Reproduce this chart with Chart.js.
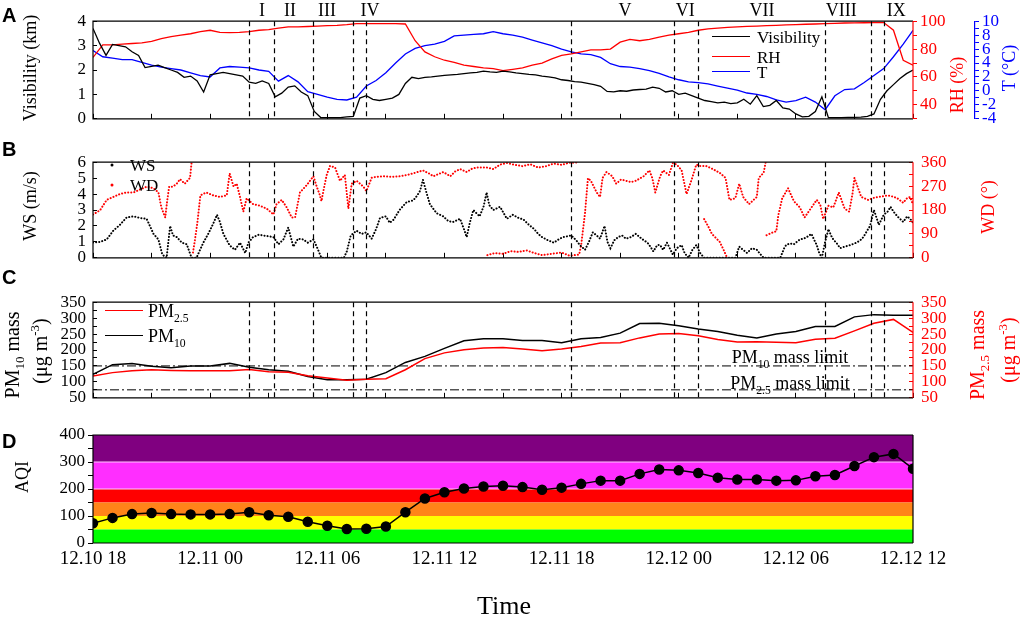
<!DOCTYPE html>
<html>
<head>
<meta charset="utf-8">
<script src="https://cdn.jsdelivr.net/npm/chart.js@4.4.1/dist/chart.umd.min.js"></script>
<style>
  body { margin: 0; background: #fff; }
  #wrap { position: relative; width: 1024px; height: 620px; overflow: hidden; font-family: 'Liberation Serif', serif; color: #000; background: #fff; }
  canvas { position: absolute; left: 0; }
  .t { position: absolute; white-space: nowrap; line-height: 1; transform: translate(-50%, -50%); }
  .r { transform: translate(-50%, -50%) rotate(-90deg); }
  .l { position: absolute; white-space: nowrap; line-height: 1; transform: translateY(-50%); font-size: 17px; }
  .key { position: absolute; height: 0; border-top: 1.6px solid; }
  .dot { position: absolute; width: 3px; height: 3px; border-radius: 50%; transform: translate(-50%, -50%); }
  .pl { position: absolute; font: bold 20px 'Liberation Sans', sans-serif; transform: translateY(-50%); }
  sub, sup { font-size: 65%; line-height: 0; }
</style>
</head>
<body>
<div id="wrap">
  <canvas id="cA" width="1024" height="140" style="top:0"></canvas>
  <canvas id="cB" width="1024" height="140" style="top:140px"></canvas>
  <canvas id="cC" width="1024" height="140" style="top:280px"></canvas>
  <canvas id="cD" width="1024" height="200" style="top:420px"></canvas>

  <div class="pl" style="left:2px;top:15px">A</div>
  <div class="pl" style="left:2px;top:149px">B</div>
  <div class="pl" style="left:2px;top:277px">C</div>
  <div class="pl" style="left:2px;top:441px">D</div>

  <!-- axis titles -->
  <div class="t r" style="left:30px;top:68px;font-size:18px">Visibility (km)</div>
  <div class="t r" style="left:957px;top:85px;font-size:18px;color:#f00">RH (%)</div>
  <div class="t r" style="left:1009px;top:68px;font-size:18px;color:#00f">T (°C)</div>
  <div class="t r" style="left:30px;top:206px;font-size:18px">WS (m/s)</div>
  <div class="t r" style="left:988px;top:207px;font-size:18px;color:#f00">WD (°)</div>
  <div class="t r" style="left:12px;top:355px;font-size:20px">PM<sub>10</sub> mass</div>
  <div class="t r" style="left:40px;top:351px;font-size:20px">(μg m<sup>-3</sup>)</div>
  <div class="t r" style="left:977px;top:355px;font-size:20px;color:#f00">PM<sub>2.5</sub> mass</div>
  <div class="t r" style="left:1008px;top:350px;font-size:20px;color:#f00">(μg m<sup>-3</sup>)</div>
  <div class="t r" style="left:22px;top:477px;font-size:18px">AQI</div>
  <div class="t" style="left:504px;top:606px;font-size:26px">Time</div>

  <!-- panel A legend -->
  <div class="key" style="left:712px;width:38px;top:36px;border-color:#000"></div>
  <div class="l" style="left:757px;top:37px">Visibility</div>
  <div class="key" style="left:712px;width:38px;top:56px;border-color:#f00"></div>
  <div class="l" style="left:757px;top:57px">RH</div>
  <div class="key" style="left:712px;width:38px;top:71px;border-color:#00f"></div>
  <div class="l" style="left:757px;top:72px">T</div>

  <!-- panel B legend -->
  <div class="dot" style="left:112px;top:165px;background:#000"></div>
  <div class="l" style="left:130px;top:165px">WS</div>
  <div class="dot" style="left:112px;top:185px;background:#f00"></div>
  <div class="l" style="left:130px;top:185px">WD</div>

  <!-- panel C legend and limit labels -->
  <div class="key" style="left:105px;width:38px;top:310px;border-color:#f00"></div>
  <div class="l" style="left:148px;top:311px;font-size:18px">PM<sub>2.5</sub></div>
  <div class="key" style="left:105px;width:38px;top:335px;border-color:#000"></div>
  <div class="l" style="left:148px;top:336px;font-size:18px">PM<sub>10</sub></div>
  <div class="t" style="left:790px;top:357px;font-size:18px">PM<sub>10</sub> mass limit</div>
  <div class="t" style="left:790px;top:383px;font-size:18px">PM<sub>2.5</sub> mass limit</div>
</div>

<script>
// time axis: hours after 12.10 18:00
const xMin = 0, xMax = 42;
const tickHours = [0, 6, 12, 18, 24, 30, 36, 42];
const tickLabels = ['12.10 18', '12.11 00', '12.11 06', '12.11 12', '12.11 18', '12.12 00', '12.12 06', '12.12 12'];
const minorHours = [0, 3, 6, 9, 12, 15, 18, 21, 24, 27, 30, 33, 36, 39, 42];

// episode boundaries (dashed lines) and episode names
const eventHours = [8, 9.25, 11.25, 13.33, 14, 24.5, 29.75, 31, 37.5, 39.83, 40.5];
const episodeNames = ['I', 'II', 'III', 'IV', 'V', 'VI', 'VII', 'VIII', 'IX'];
const episodeLabelHour = [8.66, 10.09, 11.99, 14.19, 27.25, 30.33, 34.27, 38.32, 41.14];

// panel A: visibility every 20 min (km)
const visStep = 1 / 3;
const visibility = [
  3.7, 3.1, 2.6, 3.05, 3.0, 2.95, 2.75, 2.6, 2.1, 2.15, 2.2, 2.1,
  2.0, 1.9, 1.7, 1.75, 1.55, 1.1, 1.8, 1.85, 1.9, 1.85, 1.8, 1.75,
  1.5, 1.45, 1.55, 1.45, 0.9, 1.05, 1.3, 1.35, 1.1, 0.95, 0.3, 0.05,
  0.05, 0.05, 0.05, 0.08, 0.1, 0.85, 0.95, 0.8, 0.75, 0.8, 0.85, 1.0,
  1.45, 1.7, 1.65, 1.7, 1.72, 1.75, 1.78, 1.8, 1.82, 1.85, 1.88, 1.9,
  1.95, 1.92, 1.9, 1.95, 1.92, 1.88, 1.85, 1.82, 1.8, 1.75, 1.72, 1.68,
  1.6, 1.57, 1.52, 1.5, 1.45, 1.4, 1.33, 1.12, 1.1, 1.15, 1.13, 1.18,
  1.2, 1.22, 1.3, 1.25, 1.1, 1.15, 1.0, 1.05, 0.95, 0.85, 0.75, 0.7,
  0.65, 0.68, 0.62, 0.65, 0.8, 0.6, 0.95, 0.5, 0.55, 0.75, 0.45, 0.4,
  0.2, 0.08, 0.1, 0.3, 0.9, 0.05, 0.05, 0.05, 0.06, 0.06, 0.07, 0.1,
  0.2, 0.8, 1.15, 1.4, 1.65, 1.85, 2.0
];

// panel A: RH (%) and T (°C) every 30 min
const metStep = 0.5;
const rh = [
  74, 83, 83, 83.5, 84, 84.5, 85.5, 87.5, 89, 90, 91, 92.5, 93.5, 92, 91.8, 92, 92.5, 93.5, 94, 95,
  96, 96, 96.2, 96.5, 96.8, 97, 97.5, 98.3, 98.3, 98.3, 98.3, 98.3, 98, 86, 78, 74.5, 72, 70.5, 68.5, 67.5,
  66.5, 66, 64.5, 65.5, 66.5, 68.5, 70, 73, 75.5, 76.5, 78, 79.5, 79.5, 80, 85, 87, 86, 87, 88.5, 90,
  91, 92, 93.5, 94.5, 95, 95.5, 96, 96.3, 96.5, 96.8, 97, 97.3, 97.5, 97.8, 98, 98.3, 98.5, 98.7, 98.8, 98.9,
  99, 99, 93.5, 72, 68.5
];
const temp = [
  5.8, 4.9, 4.7, 4.5, 4.5, 4.1, 3.7, 3.4, 3.2, 3.0, 2.6, 2.2, 2.0, 3.3, 3.5, 3.4, 3.3, 3.0, 2.8, 1.4,
  2.2, 1.3, -0.1, -0.5, -0.9, -1.2, -1.3, -0.9, 0.7, 1.5, 2.6, 4.0, 5.3, 6.1, 6.5, 6.7, 7.1, 7.9, 8.0, 8.1,
  8.2, 8.5, 8.2, 8.0, 7.7, 7.3, 6.9, 6.5, 6.0, 5.6, 5.3, 5.2, 4.8, 3.9, 3.5, 3.4, 3.2, 2.9, 2.5, 2.0,
  1.6, 1.3, 1.2, 1.0, 0.7, 0.4, 0.1, -0.3, -0.5, -0.8, -1.3, -1.6, -1.4, -0.9, -1.6, -2.7, -0.7, 0.2, 0.3, 1.2,
  2.2, 3.2, 4.9, 6.7, 8.7
];

// panel B: wind speed (m/s)
const wsHour = [
  0, 0.36, 0.7, 1.04, 1.38, 1.72, 2.07, 2.4, 2.75, 3.1, 3.35, 3.55, 3.77, 3.95, 4.1, 4.29, 4.55, 4.8, 5.05, 5.3,
  5.65, 5.9, 6.16, 6.35, 6.5, 6.68, 7.0, 7.27, 7.53, 7.8, 7.96, 8.2, 8.5, 8.73, 9.0, 9.24, 9.5, 9.75, 10.0, 10.26,
  10.5, 10.77, 11.0, 11.29, 11.46, 11.7, 12.0, 12.5, 12.85, 13.0, 13.2, 13.5, 13.76, 14.0, 14.27, 14.5, 14.7, 15.0, 15.2, 15.4,
  15.7, 16.07, 16.4, 16.6, 16.75, 16.9, 17.1, 17.26, 17.6, 17.94, 18.2, 18.45, 18.8, 19.0, 19.14, 19.3, 19.48, 19.8, 20.0, 20.16,
  20.3, 20.5, 20.85, 21.2, 21.5, 21.8, 22.05, 22.3, 22.6, 22.8, 23.0, 23.3, 23.6, 23.9, 24.1, 24.3, 24.5, 24.75, 24.95, 25.2,
  25.4, 25.6, 25.8, 25.97, 26.2, 26.35, 26.5, 26.7, 26.9, 27.1, 27.3, 27.55, 27.8, 28.1, 28.4, 28.55, 28.7, 28.9, 29.05, 29.2,
  29.4, 29.7, 29.9, 30.15, 30.3, 30.5, 30.7, 30.9, 31.1, 31.3, 32.9, 33.1, 33.3, 33.5, 33.75, 34.0, 34.2, 34.35, 35.2, 35.4,
  35.5, 35.7, 35.9, 36.05, 36.2, 36.4, 36.56, 36.8, 36.95, 37.07, 37.2, 37.33, 37.5, 37.67, 37.8, 37.92, 38.1, 38.27, 38.5, 38.8,
  39.1, 39.3, 39.46, 39.65, 39.8, 40.0, 40.25, 40.5, 40.7, 40.85, 41.0, 41.2, 41.5, 41.7, 41.85, 42.0
];
const wsSpeed = [
  0.96, 1.0, 1.15, 1.7, 2.07, 2.53, 2.6, 2.5, 2.44, 1.5, 1.15, 0.2, 0, 2.0, 1.4, 1.3, 0.95, 0.85, 0, 0,
  0.95, 1.5, 2.15, 2.7, 2.25, 1.5, 0.78, 0.5, 0.95, 0.3, 0.95, 1.3, 1.45, 1.4, 1.35, 1.3, 0.85, 1.15, 1.9, 0.7,
  1.2, 1.15, 0.95, 1.15, 0.7, 0, 0, 0, 0, 0.4, 1.4, 1.7, 1.5, 1.6, 1.2, 1.8, 2.5, 2.6, 2.2, 2.4,
  3.0, 3.5, 3.6, 3.9, 4.2, 4.9, 4.0, 3.35, 2.8, 2.6, 2.3, 2.25, 2.45, 1.8, 1.3, 2.2, 3.0, 2.6, 3.2, 4.1,
  3.3, 3.0, 3.2, 2.45, 2.7, 2.5, 2.4, 2.1, 1.8, 1.5, 1.3, 1.1, 0.95, 1.2, 1.3, 1.35, 1.4, 1.1, 0.78, 0.5,
  1.0, 1.6, 1.4, 1.2, 2.0, 1.0, 0.6, 1.1, 1.3, 1.4, 1.2, 1.3, 1.5, 1.2, 0.95, 0.7, 0.4, 0.8, 0.8, 0.5,
  0.95, 0.2, 0.6, 0.8, 0.3, 0, 0.5, 0.8, 0.3, 0, 0, 0.7, 0.5, 0.3, 0.6, 0.5, 0.2, 0, 0, 0.6,
  0.8, 0.9, 0.85, 1.0, 1.15, 1.2, 1.3, 1.5, 1.1, 0.8, 0.3, 0, 1.0, 1.8, 1.4, 1.15, 0.9, 0.6, 0.7, 0.8,
  0.95, 1.1, 1.3, 1.7, 2.0, 3.0, 2.07, 2.7, 2.9, 3.2, 2.9, 2.6, 2.25, 2.6, 2.45, 2.2
];

// panel B: wind direction (°), null breaks the trace where it wraps past 360
const wdHour = [
  0, 0.36, 0.7, 1.04, 1.38, 1.72, 2.07, 2.4, 2.75, 3.1, 3.35, 3.5, 3.7, 3.8, 3.9, 4.1, 4.3, 4.46, 4.7, 4.97, 5.05,
  5.05,
  5.12, 5.2, 5.35, 5.5, 5.8, 6.16, 6.5, 6.85, 7.0, 7.2, 7.36, 7.53, 7.7, 7.87, 8.2, 8.55, 8.9, 9.24, 9.4, 9.67,
  9.92, 10.18, 10.35, 10.6, 10.95, 11.29, 11.46, 11.6, 11.7, 11.85, 11.97, 12.14, 12.4, 12.65, 12.9, 13.08, 13.25, 13.5, 13.85, 14.0,
  14.27, 14.5, 14.87, 15.3, 15.73, 16.1, 16.4, 16.9, 17.2, 17.43, 17.95, 18.3, 18.55, 18.8, 19.14, 19.4, 19.65, 20.16, 20.5, 20.85,
  21.2, 21.6, 22.0, 22.4, 22.8, 23.2, 23.6, 24.0, 24.4, 24.9,
  24.9,
  20.2, 20.6, 21.0, 21.4, 21.8, 22.2, 22.6, 23.0, 23.5, 24.0, 24.4, 24.9, 25.0, 25.2, 25.35, 25.5, 25.8, 25.97, 26.1, 26.3,
  26.6, 26.8, 27.05, 27.3, 27.55, 27.8, 28.2, 28.5, 28.65, 28.8, 29.05, 29.2, 29.5, 29.7, 29.9, 30.15, 30.4, 30.67, 30.9, 31.1,
  31.4, 31.75, 32.1, 32.4, 32.6, 32.9, 33.1, 33.3, 33.6, 34.0, 34.1, 34.35, 34.45,
  34.45,
  34.5, 34.8, 35.0, 35.1, 35.3, 35.6, 35.9, 36.2, 36.45, 36.7, 36.9, 37.07, 37.25, 37.4, 37.67, 37.92, 38.2, 38.5, 38.73, 38.9,
  39.0, 39.2, 39.35, 39.7, 39.95, 40.2, 40.5, 40.7, 41.0, 41.2, 41.5, 41.7, 41.85, 42.0,
  42.0,
  31.3, 31.5, 31.7, 31.9, 32.1, 32.3, 32.45
];
const wdDir = [
  163, 179, 218, 229, 240, 246, 246, 257, 268, 262, 246, 190, 152, 215, 268, 268, 280, 296, 279, 301, 360,
  null,
  20, 57, 135, 235, 246, 235, 229, 235, 318, 268, 279, 229, 174, 224, 202, 196, 185, 163, 202, 218,
  190, 152, 152, 246, 274, 307, 268, 240, 213, 270, 312, 346, 340, 290, 312, 185, 279, 290, 268, 251,
  301, 305, 307, 305, 307, 312, 318, 329, 318, 307, 323, 307, 325, 334, 323, 335, 340, 340, 334, 351,
  357, 350, 345, 352, 340, 345, 355, 350, 358, 359,
  null,
  10, 18, 15, 25, 22, 28, 18, 10, 15, 20, 8, 12, 46, 168, 300, 290, 246, 229, 301, 323,
  307, 279, 295, 290, 285, 290, 307, 329, 300, 246, 307, 329, 312, 357, 351, 329, 240, 296, 351, 346,
  346, 334, 320, 301, 218, 224, 279, 229, 202, 229, 301, 320, 358,
  null,
  85, 95, 100, 160, 224, 262, 213, 190, 152, 179, 200, 218, 200, 146, 196, 190, 246, 185, 174, 240,
  301, 260, 229, 218, 225, 229, 232, 235, 230, 224, 207, 225, 229, 200,
  null,
  146, 120, 90, 75, 60, 30, 5
];

// panel C: hourly mass concentrations (µg m-3)
const pmStep = 1;
const pm10 = [
  124, 154, 158, 149, 144, 150, 150, 158, 146, 138, 133, 117, 107, 107, 108, 129, 161, 180, 205, 229, 235,
  235, 230, 230, 223, 235, 239, 253, 283, 284, 276, 266, 258, 246, 238, 250, 258, 274, 274, 304, 311, 309, 309
];
const pm25 = [
  118, 129, 135, 138, 136, 135, 135, 135, 139, 132, 130, 119, 112, 105, 108, 110, 138, 173, 191, 201, 206,
  208, 203, 198, 203, 211, 222, 223, 238, 250, 252, 245, 233, 225, 226, 224, 223, 234, 237, 260, 284, 296, 255
];
const pm10Limit = 150;
const pm25Limit = 75;

// panel D: hourly AQI and category bands
const aqi = [
  73, 93, 107, 111, 107, 106, 106, 107, 114, 103, 97, 79, 64, 52, 53, 61, 114, 165, 188, 202, 209, 212,
  207, 197, 205, 219, 231, 231, 256, 272, 269, 259, 242, 235, 235, 231, 232, 247, 252, 285, 318, 330, 275
];
const aqiLevels = [50, 100, 150, 200, 300, 400];
const aqiColors = ['#00ff00', '#ffff00', '#ff8419', '#ff0000', '#ff2eff', '#800080'];

Chart.defaults.font.family = "'Liberation Serif', serif";
Chart.defaults.color = '#000';

function series(step, vals) { return vals.map((v, i) => ({ x: i * step, y: v })); }
function pairs(hs, vs) { return hs.map((h, i) => ({ x: h, y: vs[i] })); }
function fixW(w) { return s => { s.width = w; }; }
function fixH(h) { return s => { s.height = h; }; }

function xAxis(withLabels, h) {
  return {
    type: 'linear', min: xMin, max: xMax,
    afterBuildTicks: s => { s.ticks = (withLabels ? tickHours : minorHours).map(v => ({ value: v })); },
    ticks: {
      autoSkip: false, maxRotation: 0, font: { size: 19 }, padding: 5,
      callback: v => withLabels ? tickLabels[tickHours.indexOf(v)] : ''
    },
    grid: { drawOnChartArea: false, drawTicks: !withLabels, tickLength: -5, color: '#000' },
    border: { display: false },
    afterFit: fixH(h)
  };
}

function yAxis(pos, min, max, step, every, color, width, tl, pad) {
  return {
    type: 'linear', position: pos, min: min, max: max,
    ticks: {
      stepSize: step, autoSkip: false, color: color, font: { size: 17 }, padding: pad,
      callback: v => (Math.abs(v % every) < 1e-9) ? v : ''
    },
    grid: { drawOnChartArea: false, tickLength: tl, color: color },
    border: { display: false },
    afterFit: fixW(width)
  };
}

const framePlugin = {
  id: 'frame',
  afterDraw(chart, args, opts) {
    const { ctx, chartArea: a } = chart;
    ctx.save();
    ctx.lineWidth = 1.2;
    ctx.strokeStyle = '#000';
    ctx.beginPath();
    ctx.moveTo(a.right, a.top); ctx.lineTo(a.left, a.top);
    ctx.lineTo(a.left, a.bottom); ctx.lineTo(a.right, a.bottom);
    ctx.stroke();
    ctx.strokeStyle = opts.right || '#000';
    ctx.beginPath(); ctx.moveTo(a.right, a.top); ctx.lineTo(a.right, a.bottom); ctx.stroke();
    ctx.restore();
  }
};

const eventLines = {
  id: 'events',
  afterDatasetsDraw(chart) {
    const { ctx, chartArea: a, scales: { x } } = chart;
    ctx.save();
    ctx.setLineDash([5, 4]);
    ctx.lineWidth = 1.2;
    ctx.strokeStyle = '#000';
    eventHours.forEach(h => {
      const px = Math.round(x.getPixelForValue(h)) + 0.5;
      ctx.beginPath(); ctx.moveTo(px, a.top); ctx.lineTo(px, a.bottom); ctx.stroke();
    });
    ctx.restore();
  }
};

const episodeLabels = {
  id: 'episodes',
  afterDraw(chart) {
    const { ctx, scales: { x } } = chart;
    ctx.save();
    ctx.font = "18px 'Liberation Serif'";
    ctx.fillStyle = '#000';
    ctx.textAlign = 'center';
    ctx.textBaseline = 'middle';
    episodeNames.forEach((n, i) => ctx.fillText(n, x.getPixelForValue(episodeLabelHour[i]), 11));
    ctx.restore();
  }
};

const common = {
  responsive: false,
  animation: false,
  events: [],
  elements: { point: { radius: 0 } }
};

// A: visibility, RH, T
new Chart(document.getElementById('cA'), {
  type: 'line',
  data: {
    datasets: [
      { data: series(visStep, visibility), borderColor: '#000', borderWidth: 1.3, yAxisID: 'y' },
      { data: series(metStep, rh), borderColor: '#ff0000', borderWidth: 1.3, yAxisID: 'yRH' },
      { data: series(metStep, temp), borderColor: '#0000ff', borderWidth: 1.3, yAxisID: 'yT' }
    ]
  },
  options: Object.assign({}, common, {
    layout: { padding: { top: 17 } },
    plugins: { legend: { display: false }, tooltip: { enabled: false }, frame: { right: '#ff0000' } },
    scales: {
      x: xAxis(false, 15),
      y: yAxis('left', 0, 4, 1, 1, '#000', 93, -4, 11),
      yRH: yAxis('right', 30, 100, 10, 20, '#ff0000', 62, 4, 3),
      yT: Object.assign(yAxis('right', -4, 10, 1, 2, '#0000ff', 49, 4, 3),
        { border: { display: true, color: '#0000ff', width: 1.2 } })
    }
  }),
  plugins: [framePlugin, eventLines, episodeLabels]
});

// B: wind speed and direction
new Chart(document.getElementById('cB'), {
  type: 'line',
  data: {
    datasets: [
      { data: pairs(wsHour, wsSpeed), borderColor: '#000', borderWidth: 2, borderDash: [0.1, 3], borderCapStyle: 'round', yAxisID: 'y' },
      { data: pairs(wdHour, wdDir), borderColor: '#ff0000', borderWidth: 2, borderDash: [0.1, 3], borderCapStyle: 'round', spanGaps: false, yAxisID: 'yWD' }
    ]
  },
  options: Object.assign({}, common, {
    layout: { padding: { top: 16 } },
    plugins: { legend: { display: false }, tooltip: { enabled: false }, frame: { right: '#ff0000' } },
    scales: {
      x: xAxis(false, 16),
      y: yAxis('left', 0, 6, 1, 1, '#000', 93, -4, 11),
      yWD: yAxis('right', 0, 360, 45, 90, '#ff0000', 111, -4, 12)
    }
  }),
  plugins: [framePlugin, eventLines]
});

// C: PM mass
const limitLine = v => [{ x: xMin, y: v }, { x: xMax, y: v }];
new Chart(document.getElementById('cC'), {
  type: 'line',
  data: {
    datasets: [
      { data: series(pmStep, pm25), borderColor: '#ff0000', borderWidth: 1.5, yAxisID: 'y' },
      { data: series(pmStep, pm10), borderColor: '#000', borderWidth: 1.5, yAxisID: 'y' },
      { data: limitLine(pm10Limit), borderColor: '#000', borderWidth: 1, borderDash: [9, 3, 2, 3], yAxisID: 'y' },
      { data: limitLine(pm25Limit), borderColor: '#000', borderWidth: 1, borderDash: [9, 3, 2, 3], yAxisID: 'y' }
    ]
  },
  options: Object.assign({}, common, {
    layout: { padding: { top: 15 } },
    plugins: { legend: { display: false }, tooltip: { enabled: false }, frame: { right: '#ff0000' } },
    scales: {
      x: xAxis(false, 16),
      y: yAxis('left', 50, 350, 25, 50, '#000', 93, -4, 11),
      yR: yAxis('right', 50, 350, 25, 50, '#ff0000', 111, -4, 12)
    }
  }),
  plugins: [framePlugin, eventLines]
});

// D: AQI over category bands
const bandSets = aqiLevels.map((lvl, i) => ({
  data: limitLine(lvl),
  backgroundColor: aqiColors[i],
  borderColor: (lvl === 200 || lvl === 300) ? '#ffc8ff' : 'rgba(0,0,0,0)',
  borderWidth: (lvl === 200 || lvl === 300) ? 1.2 : 0,
  fill: i === 0 ? 'origin' : '-1',
  order: 1
}));
new Chart(document.getElementById('cD'), {
  type: 'line',
  data: {
    datasets: [
      { data: series(pmStep, aqi), borderColor: '#000', borderWidth: 1.5,
        pointRadius: 4.5, pointBackgroundColor: '#000', pointBorderColor: '#000', order: 0 }
    ].concat(bandSets)
  },
  options: Object.assign({}, common, {
    layout: { padding: { top: 15, right: 111 } },
    plugins: { legend: { display: false }, tooltip: { enabled: false }, frame: { right: '#000' } },
    scales: {
      x: xAxis(true, 77),
      y: yAxis('left', 0, 400, 50, 100, '#000', 93, 5, 3)
    }
  }),
  plugins: [framePlugin]
});
</script>
</body>
</html>
